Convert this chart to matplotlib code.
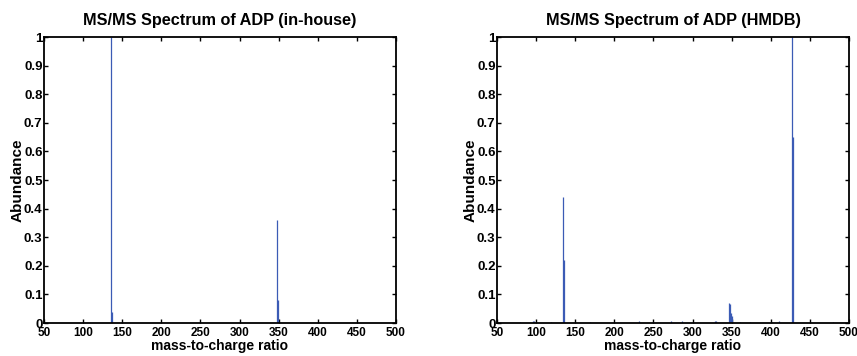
import numpy as np
import matplotlib.pyplot as plt

plt.rcParams['font.family'] = ['Liberation Sans', 'DejaVu Sans']
plt.rcParams['font.weight'] = 'bold'

# in-house spectrum
mz_inhouse = [136.0, 136.6, 348.2, 349.6]
ab_inhouse = [1.0, 0.04, 0.36, 0.08]

# HMDB spectrum
mz_hmdb = [80, 96, 97, 119, 134.8, 136.0, 169, 232, 250, 272, 287, 329, 330,
           346.2, 347.8, 349.6, 350.5, 361, 373, 402, 410, 426.6, 427.8, 479]
ab_hmdb = [0.003, 0.008, 0.006, 0.004, 0.44, 0.22, 0.003, 0.006, 0.004, 0.008,
           0.008, 0.006, 0.006, 0.07, 0.068, 0.035, 0.025, 0.003, 0.003, 0.003,
           0.006, 1.0, 0.65, 0.004]

line_color = '#3b5bb5'

fig = plt.figure(figsize=(8.57, 3.56), dpi=100)
ax1 = fig.add_axes([44 / 857, 1 - 323 / 356, 352 / 857, 286 / 356])
ax2 = fig.add_axes([497 / 857, 1 - 323 / 356, 352 / 857, 286 / 356])

panels = [(ax1, mz_inhouse, ab_inhouse, 'MS/MS Spectrum of ADP (in-house)'),
          (ax2, mz_hmdb, ab_hmdb, 'MS/MS Spectrum of ADP (HMDB)')]

for ax, mz, ab, title in panels:
    ax.vlines(mz, 0, ab, color=line_color, linewidth=0.9)
    ax.set_xlim(50, 500)
    ax.set_ylim(0, 1)
    ax.set_xticks(np.arange(50, 501, 50))
    ax.set_yticks(np.arange(0, 1.01, 0.1))
    ax.set_yticklabels(['0', '0.1', '0.2', '0.3', '0.4', '0.5', '0.6', '0.7', '0.8', '0.9', '1'])
    ax.tick_params(direction='in', top=True, right=True, length=3, width=1)
    ax.tick_params(axis='x', labelsize=8.5, pad=3)
    ax.tick_params(axis='y', labelsize=9.5, pad=1)
    for lbl in ax.get_xticklabels() + ax.get_yticklabels():
        lbl.set_fontweight('bold')
    for s in ax.spines.values():
        s.set_linewidth(1.3)
    ax.set_title(title, fontsize=11.7, fontweight='bold', pad=9)
    ax.set_xlabel('mass-to-charge ratio', fontsize=10, fontweight='bold', labelpad=0)
    ax.set_ylabel('Abundance', fontsize=11, fontweight='bold', labelpad=-0.5)

fig.savefig('out.png', dpi=100)
